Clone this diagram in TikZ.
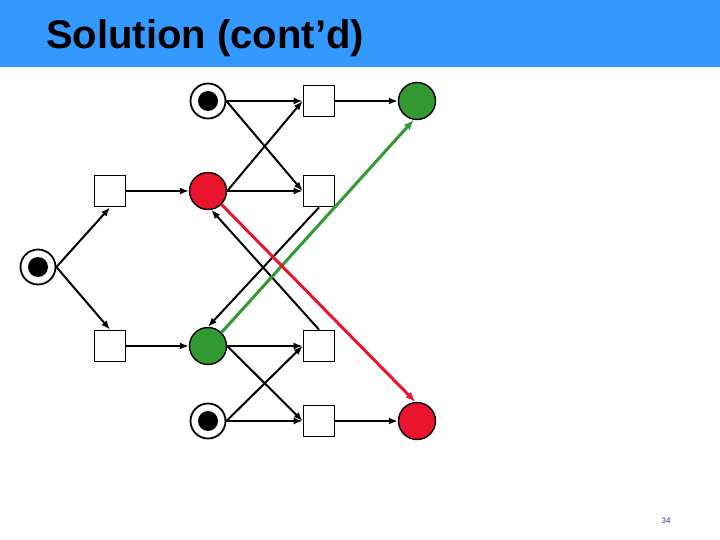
\documentclass[tikz,border=0pt]{standalone}
\usepackage{fontspec}
\usepackage{tikz}
\usetikzlibrary{positioning, arrows.meta}
\newfontfamily\slidefont{Liberation Sans}
\definecolor{bandblue}{RGB}{51,153,255}
\definecolor{firered}{RGB}{235,20,45}
\definecolor{okgreen}{RGB}{51,153,51}
\definecolor{pagenum}{RGB}{30,60,140}

\tikzset{
    place/.style={circle, draw, line width=1.8pt, minimum size=35pt, inner sep=0pt},
    marked/.style={place, path picture={\fill (path picture bounding box.center) circle (10pt);}},
    redplace/.style={place, line width=1.4pt, minimum size=37pt, fill=firered},
    greenplace/.style={place, line width=1.4pt, minimum size=37pt, fill=okgreen},
    trans/.style={rectangle, draw, line width=1.8pt, minimum size=31pt, inner sep=0pt},
    flow/.style={-{Latex[length=9pt,width=7pt]}, line width=2pt},
    redflow/.style={flow, line width=3pt, draw=firered, -{Latex[length=10pt,width=8pt,fill=firered]}},
    greenflow/.style={flow, line width=3pt, draw=okgreen, -{Latex[length=10pt,width=8pt,fill=okgreen]}}
}

\begin{document}
\begin{tikzpicture}[x=1pt, y=-1pt, on grid]
    \useasboundingbox (0,0) rectangle (720,540);
    \fill[bandblue] (0,0) rectangle (720,67);
    \node[anchor=base west, inner sep=0pt, font=\slidefont\fontsize{40}{42}\selectfont\bfseries] (title) at (46,49) {Solution (cont’d)};

    \node[marked] (p0) at (38,267) {};

    \node[trans, above right=76pt and 72pt of p0] (t1) {};
    \node[trans, below right=79pt and 72pt of p0] (t2) {};

    \node[redplace, right=98pt of t1] (p1) {};
    \node[greenplace, right=98pt of t2] (p2) {};
    \node[marked, above=90pt of p1] (p3) {};
    \node[marked, below=75pt of p2] (p4) {};

    \node[trans, right=111pt of p3] (t3) {};
    \node[trans, right=111pt of p1] (t4) {};
    \node[trans, right=111pt of p2] (t5) {};
    \node[trans, right=111pt of p4] (t6) {};

    \node[greenplace, right=98pt of t3] (p5) {};
    \node[redplace, right=98pt of t6] (p6) {};

    \node[font=\slidefont\fontsize{8}{9}\selectfont, text=pagenum] (page) at (666,521) {34};

    % left part
    \draw[flow] (p0.east) -- (t1.south);
    \draw[flow] (p0.east) -- (t2.north);
    \draw[flow] (t1) -- (p1);
    \draw[flow] (t2) -- (p2);

    % upper crossing
    \draw[flow] (p3) -- (t3);
    \draw[flow] (p3.east) -- (t4.west);
    \draw[flow] (p1.east) -- (t3.west);
    \draw[flow] (p1) -- (t4);
    \draw[flow] (t3) -- (p5);

    % middle
    \draw[flow] (t4.south) -- (p2.north);
    \draw[flow] (t5.north) -- (p1.-80);

    % lower crossing
    \draw[flow] (p2) -- (t5);
    \draw[flow] (p2.east) -- (t6.west);
    \draw[flow] (p4.east) -- (t5.west);
    \draw[flow] (p4) -- (t6);
    \draw[flow] (t6) -- (p6);

    % coloured firings
    \draw[greenflow] (p2.north east) -- (p5.-100);
    \draw[redflow] (p1.south east) -- (p6.95);
\end{tikzpicture}
\end{document}
